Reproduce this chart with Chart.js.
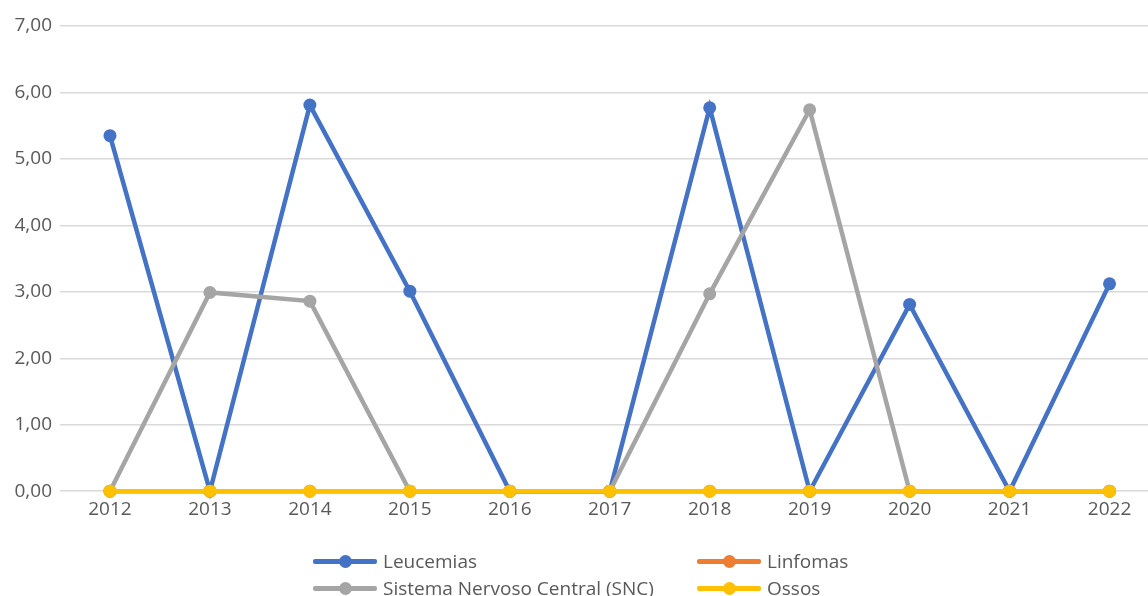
<!DOCTYPE html>
<html>
<head>
<meta charset="utf-8">
<script src="https://cdn.jsdelivr.net/npm/chart.js@4"></script>
<style>
  html, body { margin: 0; padding: 0; background: #fff; overflow: hidden; }
  #wrap { position: relative; width: 1166px; height: 596px; }
  #legend { position: absolute; left: 0; top: 0; width: 1148px; height: 596px; pointer-events: none;
    font-family: "Open Sans", sans-serif; font-size: 19px; color: #595959; }
  .item { position: absolute; height: 20px; display: flex; align-items: center; white-space: nowrap; }
  .mark { position: relative; width: 64px; height: 20px; margin-right: 6px; }
  .mark .ln { position: absolute; left: 0; right: 0; top: 8px; height: 4.5px; border-radius: 2px; }
  .mark .dt { position: absolute; left: 26px; top: 3.5px; width: 13px; height: 13px; border-radius: 50%; }
</style>
</head>
<body>
<div id="wrap">
  <canvas id="chart" width="1166" height="596"></canvas>
  <div id="legend"></div>
</div>
<script>
const years = ["2012", "2013", "2014", "2015", "2016", "2017", "2018", "2019", "2020", "2021", "2022"];
const leucemias = [5.35, 0, 5.81, 3.01, 0, 0, 5.77, 0, 2.81, 0, 3.12];
const linfomas = [0, 0, 0, 0, 0, 0, 0, 0, 0, 0, 0];
const snc = [0, 2.99, 2.86, 0, 0, 0, 2.97, 5.74, 0, 0, 0];
const ossos = [0, 0, 0, 0, 0, 0, 0, 0, 0, 0, 0];
const yTicks = [0, 1, 2, 3, 4, 5, 6, 7];

const seriesNames = ["Leucemias", "Linfomas", "Sistema Nervoso Central (SNC)", "Ossos"];
const seriesColors = ["#4472C4", "#ED7D31", "#A5A5A5", "#FFC000"];
const seriesData = [leucemias, linfomas, snc, ossos];

(function () {
  const textColor = "#595959";
  const font = { family: "'Open Sans', sans-serif", size: 19 };

  const datasets = seriesData.map((d, i) => ({
    label: seriesNames[i],
    data: d,
    borderColor: seriesColors[i],
    backgroundColor: seriesColors[i],
    borderWidth: 4.5,
    pointRadius: 6.5,
    pointBorderWidth: 0,
    pointHoverRadius: 6.5,
    tension: 0,
    clip: false,
    order: 4 - i, // later series drawn on top, like Excel
  }));

  new Chart(document.getElementById("chart"), {
    type: "line",
    data: { labels: years, datasets: datasets },
    options: {
      responsive: false,
      animation: false,
      layout: { padding: { top: 26, right: 0, bottom: 68, left: 0 } },
      plugins: {
        legend: { display: false },
        tooltip: { enabled: false },
      },
      scales: {
        x: {
          offset: true,
          grid: { display: false, drawTicks: false },
          border: { display: false },
          ticks: { color: textColor, font: font, padding: 7, maxRotation: 0 },
        },
        y: {
          min: yTicks[0],
          max: yTicks[yTicks.length - 1],
          afterBuildTicks: (scale) => { scale.ticks = yTicks.map((v) => ({ value: v })); },
          afterFit: (scale) => { scale.width = 60; },
          grid: { color: "#d9d9d9", lineWidth: 1.5, drawTicks: false },
          border: { display: false },
          ticks: {
            color: textColor,
            font: font,
            padding: 8,
            callback: (v) => Number(v).toFixed(2).replace(".", ","),
          },
        },
      },
    },
  });

  // legend laid out in two columns like the original
  const legend = document.getElementById("legend");
  const cols = [313, 697];
  const rows = [551, 578];
  seriesNames.forEach((name, i) => {
    const item = document.createElement("div");
    item.className = "item";
    item.style.left = cols[i % 2] + "px";
    item.style.top = rows[Math.floor(i / 2)] + "px";
    item.innerHTML =
      '<div class="mark"><div class="ln" style="background:' + seriesColors[i] + '"></div>' +
      '<div class="dt" style="background:' + seriesColors[i] + '"></div></div><span>' + name + "</span>";
    legend.appendChild(item);
  });
})();
</script>
</body>
</html>
